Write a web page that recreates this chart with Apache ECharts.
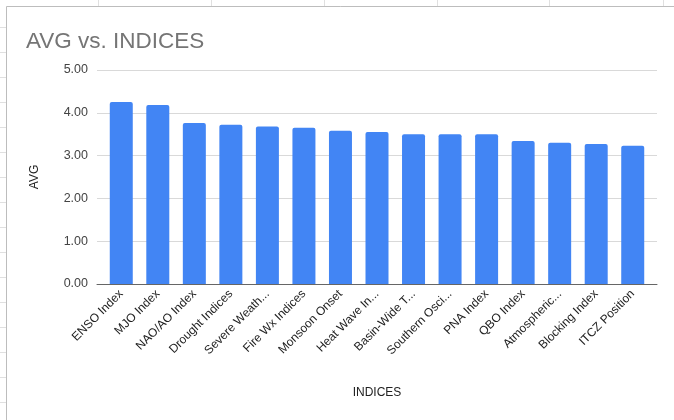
<!DOCTYPE html>
<html>
<head>
<meta charset="utf-8">
<script src="https://cdn.jsdelivr.net/npm/echarts@6/dist/echarts.min.js"></script>
<style>
html,body{margin:0;padding:0;background:#fff;}
#c{width:674px;height:420px;}
</style>
</head>
<body>
<div id="c"></div>
<script>
const categories = ["ENSO Index","MJO Index","NAO/AO Index","Drought Indices","Severe Weath...","Fire Wx Indices","Monsoon Onset","Heat Wave In...","Basin-Wide T...","Southern Osci...","PNA Index","QBO Index","Atmospheric...","Blocking Index","ITCZ Position"];
const avgValues = [4.25,4.18,3.76,3.72,3.68,3.65,3.58,3.55,3.50,3.50,3.50,3.34,3.30,3.27,3.23];
const yTicks = [0,1,2,3,4,5];

const FONT = '"Liberation Sans", Arial, sans-serif';
const chart = echarts.init(document.getElementById('c'), null, {renderer:'canvas'});

// spreadsheet decoration
const deco = [];
[98,211,324,437,549,663].forEach(x => deco.push({type:'line', shape:{x1:x+0.5,y1:0,x2:x+0.5,y2:6}, style:{stroke:'#e0e0e0',lineWidth:1}, silent:true}));
for (let y = 27; y < 420; y += 25) deco.push({type:'line', shape:{x1:0,y1:y+0.5,x2:6,y2:y+0.5}, style:{stroke:'#e0e0e0',lineWidth:1}, silent:true});
deco.push({type:'line', shape:{x1:6.5,y1:6.5,x2:674,y2:6.5}, style:{stroke:'#bdbdbd',lineWidth:1}, silent:true});
deco.push({type:'line', shape:{x1:6.5,y1:6.5,x2:6.5,y2:420}, style:{stroke:'#bdbdbd',lineWidth:1}, silent:true});

chart.setOption({
  animation:false,
  backgroundColor:'#fff',
  graphic: deco,
  title:{
    text:'AVG vs. INDICES', left:21, top:25,
    textStyle:{fontFamily:FONT, fontSize:22.5, fontWeight:'normal', color:'#757575'}
  },
  grid:[
    {left:97, right:17, top:70, bottom:136, containLabel:false},
    {left:103, right:23, top:70, bottom:136, containLabel:false}
  ],
  xAxis:[
    {type:'category', gridIndex:0, data:categories,
     name:'INDICES', nameLocation:'middle', nameGap:103,
     nameTextStyle:{fontFamily:FONT, fontSize:12, color:'#222'},
     axisLine:{show:true, lineStyle:{color:'#666', width:1}},
     axisTick:{show:false}, axisLabel:{show:false}},
    {type:'category', gridIndex:1, data:categories,
     axisLine:{show:false}, axisTick:{show:false},
     axisLabel:{rotate:45, interval:0, margin:8, fontFamily:FONT, fontSize:12, color:'#222'}}
  ],
  yAxis:[
    {type:'value', gridIndex:0, min:yTicks[0], max:yTicks[yTicks.length-1], interval:1,
     name:'AVG', nameLocation:'middle', nameGap:56,
     nameTextStyle:{fontFamily:FONT, fontSize:12, color:'#222'},
     axisLine:{show:false}, axisTick:{show:false},
     axisLabel:{margin:9, fontFamily:FONT, fontSize:12.5, color:'#444', formatter:v=>v.toFixed(2)},
     splitLine:{show:true, lineStyle:{color:'#d9d9d9', width:1}}},
    {type:'value', gridIndex:1, min:yTicks[0], max:yTicks[yTicks.length-1], interval:1, show:false,
     splitLine:{show:false}}
  ],
  series:[
    {type:'bar', xAxisIndex:1, yAxisIndex:1, data:avgValues, barWidth:23,
     itemStyle:{color:'#4285f4', borderRadius:[2,2,0,0]}}
  ]
});
</script>
</body>
</html>
